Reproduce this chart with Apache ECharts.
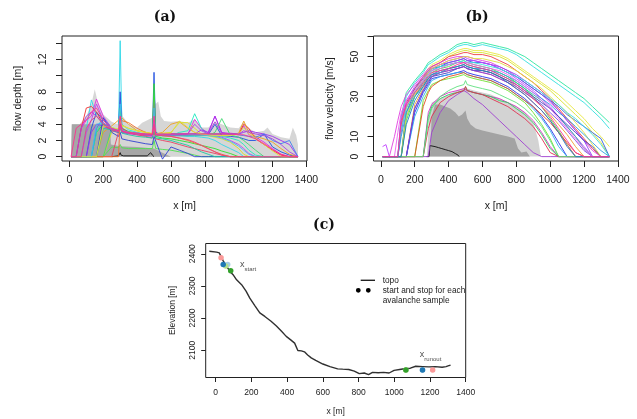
<!DOCTYPE html>
<html><head><meta charset="utf-8">
<script src="https://cdn.jsdelivr.net/npm/echarts@6/dist/echarts.min.js"></script>
<style>html,body{margin:0;padding:0;background:#fff}#c{width:637px;height:419px}</style>
</head><body><div id="c"></div>
<script>
// ---------- tick values ----------
const xTicks = [0,200,400,600,800,1000,1200,1400];
const depthTicks = [0,2,4,6,8,10,12,14];
const depthLabels = [0,2,4,6,8,12];
const velTicks = [0,10,20,30,40,50,60];
const velLabels = [0,10,30,50];
const elevTicks = [2100,2200,2300,2400];

// ---------- panel (a): flow depth ----------
const xDepth = [10,40,70,100,130,160, 200,250,290,300,310,350,400,450,490,500, 510,550,600,650,700,740,780,820,860,900, 950,1000,1030,1060,1100,1150,1200,1250,1300,1350];
const d01 = [0,0,0,3.5,7.0,5.0, 4.0,3.5,3.3,14.3,4.0,3.3,3.0,2.8,2.7,3.0, 2.6,2.6,2.6,2.6,2.5,2.5,2.4,2.3,2.0,1.5, 1.0,0.5,0,0,0,0,0,0,0,0];
const d02 = [0,0,0,0,3.5,5.5, 4.5,3.5,3.2,8.0,3.5,3.0,2.8,2.6,2.6,10.4, 3.0,2.6,2.6,2.6,2.6,2.7,2.7,2.7,4.0,2.6, 2.5,2.4,2.2,2.0,2.0,2.8,1.2,0.6,0.2,0];
const d03 = [0,0,3.5,4.5,5.0,7.1, 5.0,3.5,3.0,4.5,3.0,2.8,2.7,2.6,2.5,7.0, 2.7,2.7,2.8,2.8,2.8,4.6,3.5,2.9,5.0,2.9, 2.9,2.8,3.8,2.7,2.4,1.8,1.0,0.3,0,0];
const d04 = [0,0,3.5,6.0,6.2,5.5, 4.0,3.2,3.0,5.0,3.2,2.9,2.8,2.7,2.7,6.0, 2.8,2.8,2.8,2.8,2.8,2.8,2.8,2.8,2.8,2.8, 2.8,2.8,4.0,3.5,2.2,1.5,0.8,0.2,0,0];
const d05 = [0,0,0,0,0,3.0, 4.0,3.5,3.2,6.0,3.5,3.1,2.9,2.8,2.8,9.0, 2.5,2.3,2.2,2.0,1.8,1.6,1.4,1.2,1.0,0.7, 0.4,0,0,0,0,0,0,0,0,0];
const d06 = [0,0,0,0,0,0, 3.0,3.8,4.5,5.0,5.0,4.0,3.2,3.0,2.8,3.0, 2.8,3.0,4.0,4.3,3.5,3.0,2.7,2.6,2.5,2.6, 2.7,2.9,4.4,3.0,2.5,2.2,1.8,1.0,0.3,0];
const d07 = [0,0,0,0,0,0, 0,3.0,3.5,4.0,3.8,3.5,3.2,3.0,2.8,3.0, 2.8,2.9,3.0,4.2,4.2,3.5,2.8,2.6,2.4,2.2, 1.8,1.0,0.3,0,0,0,0,0,0,0];
const d08 = [0,0,0,0,0,3.0, 4.5,3.6,3.3,5.0,3.3,3.0,2.8,2.7,2.6,4.0, 2.6,2.6,2.6,3.0,3.2,5.3,3.5,2.7,2.6,2.5, 2.3,2.0,1.5,0.8,0.2,0,0,0,0,0];
const d09 = [0,0,0,0,3.0,4.0, 3.8,3.2,3.0,4.0,3.0,2.9,2.8,2.7,2.6,5.0, 2.7,2.7,2.7,2.7,2.7,2.8,3.3,3.0,5.0,3.0, 2.8,2.8,3.0,3.2,3.0,2.8,2.5,2.0,1.5,0];
const d10 = [0,0,0,0,0,3.5, 4.8,3.5,3.0,4.0,3.0,2.9,2.8,2.7,2.7,4.0, 2.8,2.8,2.8,2.8,2.8,2.8,2.8,2.8,2.8,2.8, 2.8,2.7,2.6,2.5,2.4,2.8,2.0,1.6,2.0,0];
const d11 = [0,0,0,0,0,0, 0,1.2,1.1,1.5,1.1,1.0,1.0,1.0,1.0,2.0, 1.0,0.9,0.8,0.6,0.4,0.2,0,0,0,0, 0,0,0,0,0,0,0,0,0,0];
const d12 = [0,0,0,0,0,0, 0,3.5,3.2,4.0,3.1,2.9,2.8,2.7,2.7,5.0, 2.6,2.6,2.6,2.6,2.6,2.6,2.6,2.6,3.0,4.7, 2.7,2.4,2.0,1.5,0.8,0,0,0,0,0];
const d14 = [0,0,0,0,0,0, 4.8,3.0,2.5,3.0,2.2,2.0,1.8,1.6,1.5,2.5, 2.5,-0.3,1.2,0.8,0.4,0,0,0,0,0, 0,0,0,0,0,0,0,0,0,0];
const d15 = [0,0,0,0,0,0, 0,0,3.0,5.0,3.5,3.0,2.7,2.5,2.3,3.0, 2.2,2.0,1.8,1.5,1.2,1.0,0.8,0.6,0.4,0.2, 0,0,0,0,0,0,0,0,0,0];
const d16 = [0,0,0,3.0,4.5,6.5, 4.5,3.5,3.2,4.5,3.2,3.0,2.9,2.8,2.7,4.5, 2.7,2.7,2.7,2.7,2.7,2.7,2.7,2.7,2.6,2.4, 2.0,1.5,1.0,0.4,0,0,0,0,0,0];
const d17 = [0,0,0,0,0,0, 3.5,3.3,3.0,3.5,2.9,2.7,2.5,2.4,2.3,3.5, 2.3,2.2,2.0,1.7,1.4,1.0,0.6,0.3,0,0, 0,0,0,0,0,0,0,0,0,0];
const d18 = [0,0,0,0,0,0, 0,0,0,4.5,4.5,4.2,3.5,3.0,2.8,3.5, 2.7,2.6,2.5,2.3,2.0,1.7,1.4,1.0,0.6,0.3, 0,0,0,0,0,0,0,0,0,0];
const d19 = [0,0,0,0,0,4.0, 4.2,3.4,3.1,6.5,3.3,3.0,2.8,2.7,2.6,6.0, 2.7,2.7,2.7,2.7,2.7,2.7,2.7,2.6,2.5,2.3, 1.9,1.3,0.8,0.3,0,0,0,0,0,0];
const d20 = [0,0,0,0,0,0, 3.8,3.6,3.4,4.5,3.8,3.5,3.2,3.0,2.9,4.0, 2.8,2.8,2.9,4.4,3.6,3.0,2.8,2.7,2.6,2.6, 2.6,2.8,3.6,2.8,2.3,1.5,0.7,0,0,0];
const d21 = [0,0,3.5,5.0,5.5,5.0, 4.2,3.4,3.1,4.0,3.1,2.9,2.8,2.7,2.6,4.0, 2.7,2.7,2.7,2.7,2.8,4.0,3.2,2.8,4.3,2.9, 2.8,2.8,3.2,3.0,2.8,2.6,2.2,1.5,0.6,0];
const d22 = [0,0,0,3.5,4.5,5.0, 4.0,3.3,3.1,4.0,3.1,2.9,2.8,2.7,2.7,4.0, 2.7,2.6,2.5,2.3,2.1,1.8,1.4,1.0,0.6,0.2, 0,0,0,0,0,0,0,0,0,0];
const d13 = [0,3.5,4.0,4.5,5.5,6.0, 4.5,3.5,3.2,5.0,3.2,3.0,2.9,2.8,2.8,5.0, 2.8,2.8,2.8,2.8,2.8,2.8,2.8,2.8,2.8,2.8, 2.8,2.7,2.7,2.5,2.2,1.6,0.9,0.3,0,0];
const depthLines = [d01,d02,d03,d04,d05,d06,d07,d08,d09,d10,d11,d12,d14,d15,d16,d17,d18,d19,d20,d21,d22,d13];
const depthColors = ['#30D8E8','#2050E0','#E030E0','#F03030','#30E030','#F0A020','#D8E020','#20E8C0','#A030F0','#4080F0','#50E050','#40D870','#3040D0','#E84060','#C040F0','#20C8A0','#F07030','#40C0F0','#E0E040','#B040E0','#F04080','#FF3090'];
// grey envelopes (a)
const depthHiX = [10,15,60,100,130,150,170,200,250,285, 300,315,350,400,430,460,490,500,510,525, 540,560,600,650,700,740,780,820,860,900, 950,1000,1030,1060,1100,1150,1170,1200,1250,1300, 1320,1340,1350];
const depthHiY = [0,4,4,5,6.5,8.3,6.5,5.2,4.3,4, 8,5,4,3.6,4.2,4.5,4.8,7.5,6.5,6.8, 5,4.4,4.3,4.4,4.2,4.6,3.6,3.6,4.3,4, 3.6,3.5,4.3,3.5,3,3.2,3.6,2.8,2.4,2.2, 3.6,2.6,1.5];
const depthLoX = [10,14,240,245,300,400,500,550,600];
const depthLoY = [0,4,4,1.5,1.3,1.2,1.0,0.5,0];
const depthRefX = [250,290,295,300,305,320,460,470,480,490,500];
const depthRefY = [0,0.1,0.3,0.5,0.2,0.1,0.1,0.3,0.5,0.2,0];

// ---------- panel (b): flow velocity ----------
const xVel = [10,30,50,80,100,120,150,200,250,280, 300,350,400,450,490,500,510,550,600,650, 700,750,800,850,900,950,1000,1050,1100,1150, 1200,1250,1300,1350];
const v01 = [0,0,0,0,0,20,32,38,43,47, 48,51,53,56,57,58,57,56,57,56, 55,54,52,50,47,44,41,38,35,32, 29,25,21,17];
const v02 = [0,0,0,0,0,18,30,37,42,46, 47,50,52,55,56,57,56,55,56,55, 54,53,51,48,45,42,39,36,33,30, 27,23,19,14];
const v03 = [0,0,0,0,0,0,24,34,40,44, 46,48,51,53,54,55,54,53,53,52, 51,49,46,43,40,37,34,31,27,23, 19,14,10,5];
const v04 = [0,0,0,0,0,0,22,33,39,43, 45,47,50,52,53,54,53,52,52,51, 50,48,45,42,39,36,33,29,25,21, 17,12,7,0];
const v05 = [0,0,0,0,0,16,27,34,40,43, 45,47,50,51,52,53,52,51,51,50, 48,46,43,40,37,33,29,24,19,14, 9,4,0,0];
const v06 = [0,0,0,10,18,25,31,36,41,44, 45,47,49,50,50,51,50,49,48,47, 45,43,40,37,34,31,27,23,18,13, 8,3,0,0];
const v07 = [0,0,0,0,0,0,22,32,38,42, 44,45,47,48,49,50,48,47,47,46, 44,42,40,37,34,31,28,25,21,18, 15,12,9,0];
const v08 = [0,0,0,0,0,12,26,34,39,42, 44,46,47,48,49,50,48,48,47,46, 45,43,41,38,35,32,28,23,18,13, 8,0,0,0];
const v09 = [0,0,0,0,0,0,18,30,36,40, 42,44,45,47,48,49,47,46,45,44, 42,40,37,34,30,25,19,13,6,0, 0,0,0,0];
const v11 = [0,0,0,0,0,0,0,26,34,38, 40,42,44,45,46,47,45,44,43,42, 40,38,35,32,29,25,21,16,11,5, 0,0,0,0];
const v12 = [0,0,0,0,0,0,0,22,32,36, 39,40,41,42,43,44,42,41,40,39, 37,35,32,29,25,20,14,7,0,0, 0,0,0,0];
const v13 = [0,0,0,0,0,0,0,20,30,35, 38,40,41,42,42,43,41,40,39,38, 36,34,31,28,24,19,13,5,0,0, 0,0,0,0];
const v14 = [0,0,0,0,0,0,0,0,28,33, 36,38,39,40,41,42,40,39,38,37, 35,33,30,27,22,16,9,0,0,0, 0,0,0,0];
const v15 = [0,0,0,0,0,0,0,0,0,22, 26,30,32,33,34,35,33,32,31,30, 29,27,25,22,18,12,5,0,0,0, 0,0,0,0];
const v16 = [0,0,0,0,0,0,0,0,0,20, 25,29,31,32,33,35,33,32,31,30, 28,27,24,21,17,11,4,0,0,0, 0,0,0,0];
const v17 = [0,0,0,0,0,0,0,0,0,0, 12,22,28,31,33,33,32,29,26,22, 18,14,10,6,2,0,0,0,0,0, 0,0,0,0];
const v18 = [0,0,0,0,0,0,0,0,0,14, 20,27,30,32,33,35,33,32,31,29, 27,25,22,19,15,9,2,0,0,0, 0,0,0,0];
const v19 = [5,6,0,0,0,20,28,35,40,43, 44,46,48,49,50,51,49,48,47,46, 44,42,39,36,33,29,25,20,15,10, 5,0,0,0];
const v20 = [0,0,0,0,0,0,20,30,37,41, 43,45,46,47,47,48,46,45,44,43, 41,39,37,34,31,28,24,20,15,10, 4,0,0,0];
const v21 = [0,0,0,0,0,15,25,31,36,39, 41,42,43,44,45,46,44,43,42,41, 39,37,34,31,27,23,18,12,6,0, 0,0,0,0];
const v22 = [0,0,0,0,0,0,0,24,33,37, 40,41,42,44,45,46,44,43,43,42, 40,38,36,33,30,27,24,20,16,12, 8,5,0,0];
const v23 = [0,0,0,0,0,0,20,31,38,42, 44,46,48,49,50,51,50,49,49,48, 47,45,43,40,37,34,30,26,22,17, 12,6,0,0];
const v24 = [0,0,0,0,0,14,24,32,38,41, 43,45,46,47,48,49,47,47,46,45, 44,42,40,38,35,32,29,26,22,19, 15,11,6,0];
const v25 = [0,0,0,0,0,0,0,24,33,38, 40,42,43,44,45,46,44,43,42,41, 39,37,35,32,29,26,22,18,13,8, 3,0,0,0];
const v26 = [0,0,0,0,0,0,0,0,25,32, 35,38,40,41,42,43,41,40,39,38, 36,34,31,28,25,21,17,12,7,2, 0,0,0,0];
const v27 = [0,0,0,0,0,10,22,30,35,39, 41,42,44,45,46,47,45,44,44,43, 42,40,38,35,32,29,26,22,19,15, 11,7,3,0];
const v28 = [0,0,0,0,0,0,0,0,0,18, 24,30,33,35,36,38,36,35,34,33, 31,29,27,24,20,15,8,0,0,0, 0,0,0,0];
const v29 = [0,0,0,0,12,22,28,33,38,41, 43,44,46,47,47,48,47,46,45,44, 43,41,38,35,32,28,24,19,14,9, 4,0,0,0];
const v30 = [0,0,0,0,0,0,16,28,35,39, 41,43,44,45,46,47,45,44,43,42, 40,37,34,31,27,23,18,12,5,0, 0,0,0,0];
const v10 = [0,0,0,0,0,18,26,32,37,40, 42,43,44,46,47,48,46,45,44,43, 41,39,36,33,29,25,20,14,8,2, 0,0,0,0];
const velLines = [v01,v02,v03,v04,v05,v06,v07,v08,v09,v11,v12,v13,v14,v15,v16,v17,v18,v19,v20,v21,v22,v23,v24,v25,v26,v27,v28,v29,v30,v10];
const velColors = ['#2EE6A0','#33E0E0','#E8E840','#D8E030','#EE4040','#E040E0','#3060E0','#9040F0','#40E040','#F0A030','#3030E8','#30B0F0','#70E030','#D030C0','#30D060','#A040D0','#E03050','#C040FF','#20C0A0','#F05080','#4040C0','#E0E040','#40E0E0','#8040E0','#E05020','#30A0E0','#60E080','#F060F0','#2080C0','#FF3099'];
// grey envelopes (b)
const velHiX = [272,285,300,350,400,450,490,500,510,550,600,650,700,750,800,850,900,930,945];
const velHiY = [0,20,27,29,31,33,34,35,34,33,32,31,29,27,25,22,17,8,0];
const velLoX = [290,300,320,350,380,410,440,460,480,500,510,530,560,600,650,700,750,790,810,830,860,880];
const velLoY = [0,20,26,26,25,24,22,20,21,23,19,16,14,13,12,11,10,9,4,2,2.5,0];
const velRefX = [270,285,290,300,320,340,360,380,400,420,440,455,462];
const velRefY = [0,0,5.5,6,5,4.5,4,3.5,3,2.5,1.5,0.8,0];

// ---------- panel (c): topography ----------
const topoX = [-36,5,20,28,42,60,80,100,117,145, 170,191,220,247,275,310,340,370,395,420, 442,460,480,497,515,535,560,600,640,683, 711,745,776,804,832,856,878,910,940,971, 999,1030,1064,1090,1120,1160,1194,1230,1268,1290, 1305,1315];
const topoY = [2408,2405,2403,2397,2378,2362,2345,2333,2319,2304, 2284,2262,2238,2216,2205,2190,2175,2158,2143,2132, 2122,2099,2098,2095,2085,2076,2068,2057,2049,2042, 2041,2040,2035,2027,2029,2024,2031,2030,2031,2029, 2037,2040,2043,2044,2050,2049,2048,2049,2047,2049, 2052,2053];
const startX = [30,42,67,56,84];
const startY = [2388,2367,2367,2362,2347];
const stopX = [1215,1158,1158,1065,1065];
const stopY = [2038,2038,2038,2038,2038];
const sampleColors = ['#FB9A99','#1F78B4','#A6CEE3','#B2DF8A','#33A02C'];
const stopOrder = [2,3,0,1,4];

// ---------- build ----------
const FONT = '"Liberation Sans", Arial, sans-serif';
const INK = '#222';
const pairs = (xs, ys) => xs.map((x, i) => [x, ys[i]]);
const plain = v => String(v);

function xAx(g, min, max, fs, tickLen, margin, nameGap) {
  return {
    gridIndex: g, type: 'value', min: min, max: max,
    axisLine: { show: false, onZero: false },
    splitLine: { show: false },
    axisTick: { show: true, customValues: xTicks, length: tickLen, lineStyle: { color: INK, width: 1 } },
    axisLabel: { customValues: xTicks, formatter: plain, fontSize: fs, color: INK, fontFamily: FONT, margin: margin },
    name: 'x [m]', nameLocation: 'middle', nameGap: nameGap,
    nameTextStyle: { fontSize: fs, color: INK, fontFamily: FONT }
  };
}
function yAx(g, min, max, ticks, labels, name, fs, tickLen, margin, nameGap) {
  return {
    gridIndex: g, type: 'value', min: min, max: max,
    axisLine: { show: false, onZero: false },
    splitLine: { show: false },
    axisTick: { show: true, customValues: ticks, length: tickLen, lineStyle: { color: INK, width: 1 } },
    axisLabel: { customValues: labels, formatter: plain, rotate: 90, fontSize: fs, color: INK, fontFamily: FONT, margin: margin },
    name: name, nameLocation: 'middle', nameRotate: 90, nameGap: nameGap,
    nameTextStyle: { fontSize: fs, color: INK, fontFamily: FONT }
  };
}
function area(xi, xs, ys, color) {
  return { type: 'line', xAxisIndex: xi, yAxisIndex: xi, data: pairs(xs, ys), symbol: 'none',
    lineStyle: { width: 0 }, areaStyle: { color: color, opacity: 1 }, silent: true, z: 1, animation: false };
}
function line(xi, xs, ys, color, w, z) {
  return { type: 'line', xAxisIndex: xi, yAxisIndex: xi, data: pairs(xs, ys), symbol: 'none',
    lineStyle: { width: w, color: color, opacity: 0.9 }, silent: true, z: z, animation: false };
}

const series = [];
series.push(area(0, depthHiX, depthHiY, '#D6D6D6'));
series.push(area(0, depthLoX, depthLoY, '#A6A6A6'));
series.push(line(0, depthRefX, depthRefY, '#111', 1, 2));
depthLines.forEach((ys, i) => series.push(line(0, xDepth, ys, depthColors[i], 1, 3)));

series.push(area(1, velHiX, velHiY, '#D3D3D3'));
series.push(area(1, velLoX, velLoY, '#A3A3A3'));
series.push(line(1, velRefX, velRefY, '#111', 1, 2));
velLines.forEach((ys, i) => series.push(line(1, xVel, ys, velColors[i], 1, 3)));

series.push(line(2, topoX, topoY, '#1a1a1a', 1.4, 2));
stopOrder.forEach(k => {
  series.push({ type: 'scatter', xAxisIndex: 2, yAxisIndex: 2, symbolSize: 5.5,
    data: [[startX[k], startY[k]], [stopX[k], stopY[k]]],
    itemStyle: { color: sampleColors[k], opacity: 1 }, silent: true, z: 4, animation: false });
});
const rich = {
  x: { fontSize: 9, fontFamily: FONT, color: INK, verticalAlign: 'middle', lineHeight: 12 },
  s: { fontSize: 6, fontFamily: FONT, color: INK, verticalAlign: 'bottom', lineHeight: 12, padding: [0,0,-2,0] }
};
series.push({ type: 'scatter', xAxisIndex: 2, yAxisIndex: 2, symbolSize: 0, silent: true, z: 5, animation: false,
  data: [
    { value: [136, 2367], label: { show: true, position: 'right', distance: 0, formatter: '{x|x}{s|start}', rich: rich } },
    { value: [1143, 2086], label: { show: true, position: 'right', distance: 0, formatter: '{x|x}{s|runout}', rich: rich } }
  ] });

const option = {
  animation: false,
  backgroundColor: '#fff',
  grid: [
    { left: 62, top: 36, width: 245, height: 125, show: true, borderColor: INK, borderWidth: 1, backgroundColor: 'transparent' },
    { left: 373.5, top: 36, width: 245, height: 125, show: true, borderColor: INK, borderWidth: 1, backgroundColor: 'transparent' },
    { left: 205.7, top: 243.5, width: 260, height: 134, show: true, borderColor: INK, borderWidth: 1, backgroundColor: 'transparent' }
  ],
  xAxis: [
    xAx(0, -43.6, 1403.6, 10.5, 6, 14, 40),
    xAx(1, -43.6, 1403.6, 10.5, 6, 14, 40),
    xAx(2, -56, 1400, 8.5, 4.5, 11, 30)
  ],
  yAxis: [
    yAx(0, -0.53, 14.88, depthTicks, depthLabels, 'flow depth [m]', 10.5, 6, 13, 38),
    yAx(1, -2.2, 60.3, velTicks, velLabels, 'flow velocity [m/s]', 10.5, 6, 13, 38),
    yAx(2, 2015, 2432, elevTicks, elevTicks, 'Elevation [m]', 8.5, 4.5, 8.5, 29)
  ],
  series: series,
  graphic: [
    { type: 'text', x: 165, y: 17, style: { text: '(a)', align: 'center', verticalAlign: 'middle', font: 'bold 14px "DejaVu Serif", serif', fill: '#111' } },
    { type: 'text', x: 477, y: 17, style: { text: '(b)', align: 'center', verticalAlign: 'middle', font: 'bold 14px "DejaVu Serif", serif', fill: '#111' } },
    { type: 'text', x: 324, y: 225, style: { text: '(c)', align: 'center', verticalAlign: 'middle', font: 'bold 14px "DejaVu Serif", serif', fill: '#111' } },
    { type: 'line', shape: { x1: 360.7, y1: 280.3, x2: 375, y2: 280.3 }, style: { stroke: '#222', lineWidth: 1.4 } },
    { type: 'circle', shape: { cx: 358.3, cy: 290.3, r: 2.4 }, style: { fill: '#000' } },
    { type: 'circle', shape: { cx: 368.3, cy: 290.3, r: 2.4 }, style: { fill: '#000' } },
    { type: 'text', x: 382.7, y: 280.3, style: { text: 'topo', align: 'left', verticalAlign: 'middle', font: '8.3px "Liberation Sans", Arial, sans-serif', fill: INK } },
    { type: 'text', x: 382.7, y: 290.3, style: { text: 'start and stop for each', align: 'left', verticalAlign: 'middle', font: '8.3px "Liberation Sans", Arial, sans-serif', fill: INK } },
    { type: 'text', x: 382.7, y: 300.3, style: { text: 'avalanche sample', align: 'left', verticalAlign: 'middle', font: '8.3px "Liberation Sans", Arial, sans-serif', fill: INK } }
  ]
};
const chart = echarts.init(document.getElementById('c'), null, { renderer: 'canvas' });
chart.setOption(option);
</script>
</body></html>
